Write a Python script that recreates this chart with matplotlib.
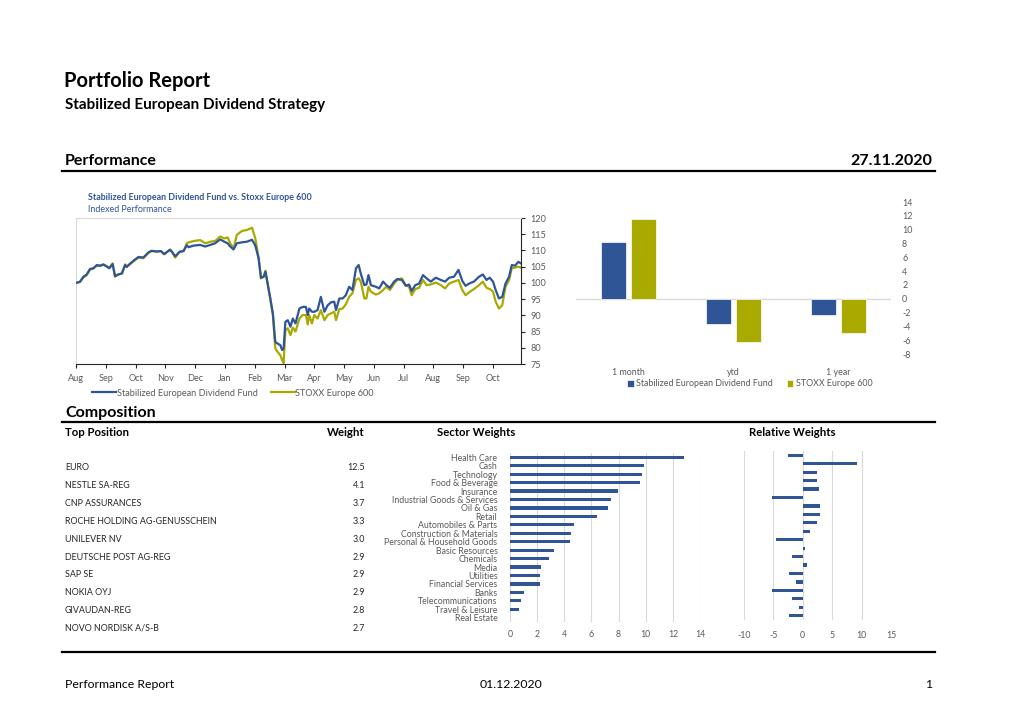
import numpy as np
import matplotlib.pyplot as plt
from matplotlib.lines import Line2D

plt.rcParams['font.family'] = ['Lato', 'DejaVu Sans']
plt.rcParams['axes.unicode_minus'] = False

# ---------------------------------------------------- data ------------------------------------------------------------
month_labels = ['Aug', 'Sep', 'Oct', 'Nov', 'Dec', 'Jan', 'Feb', 'Mar', 'Apr', 'May', 'Jun', 'Jul', 'Aug', 'Sep', 'Oct']

# time in months after 1 Aug 2019
t_month = [0.00, 0.13, 0.25, 0.36, 0.47, 0.58, 0.70, 0.81, 0.92, 1.03, 1.12, 1.23, 1.31, 1.42, 1.54, 1.65, 1.70,
           1.82, 1.98, 2.10, 2.26, 2.43, 2.54, 2.71, 2.85, 2.96, 3.16, 3.23, 3.33, 3.48, 3.61, 3.72, 3.78, 3.95,
           4.17, 4.34, 4.51, 4.67, 4.84, 4.98, 5.09, 5.18, 5.29, 5.40, 5.57, 5.74, 5.91, 6.02, 6.13, 6.21, 6.30,
           6.36, 6.41, 6.52, 6.61, 6.69, 6.77, 6.86, 6.92, 6.97, 7.03, 7.11, 7.20, 7.28, 7.37, 7.50, 7.61, 7.72,
           7.78, 7.83, 7.92, 8.00, 8.11, 8.22, 8.34, 8.45, 8.56, 8.67, 8.73, 8.84, 8.95, 9.06, 9.17, 9.28, 9.40,
           9.49, 9.56, 9.68, 9.75, 9.82, 9.90, 10.07, 10.18, 10.31, 10.42, 10.54, 10.68, 10.79, 10.94, 11.07,
           11.18, 11.27, 11.39, 11.52, 11.65, 11.77, 11.91, 12.08, 12.25, 12.39, 12.53, 12.69, 12.84, 12.97,
           13.08, 13.20, 13.36, 13.53, 13.66, 13.78, 13.89, 14.00, 14.09, 14.20, 14.31, 14.42, 14.54, 14.63,
           14.74, 14.85, 14.94]

fund = [100.0, 100.3, 101.9, 102.6, 104.3, 104.5, 105.5, 105.3, 105.7, 105.0, 104.5, 105.8, 102.1, 102.6, 102.9,
        105.5, 104.9, 106.0, 107.2, 108.0, 107.8, 109.4, 109.9, 109.7, 109.8, 108.9, 110.2, 109.5, 108.2, 109.6,
        109.8, 111.6, 111.0, 111.5, 111.7, 111.2, 111.7, 112.2, 113.4, 112.7, 112.2, 111.2, 110.3, 112.2, 112.5,
        112.7, 113.3, 111.5, 107.6, 101.6, 101.9, 103.4, 101.0, 95.4, 90.5, 81.8, 81.3, 80.8, 79.3, 79.8, 88.0,
        88.5, 86.5, 89.0, 87.5, 92.1, 92.6, 92.6, 90.1, 92.1, 91.1, 91.1, 91.6, 95.7, 91.1, 93.1, 94.0, 94.2,
        91.6, 95.2, 95.2, 96.2, 98.8, 97.8, 104.5, 105.5, 102.9, 99.3, 99.5, 102.4, 99.3, 98.8, 98.3, 100.4,
        99.3, 98.5, 100.4, 101.2, 100.9, 99.1, 99.5, 97.5, 99.3, 99.8, 102.4, 101.4, 100.4, 101.6, 100.9, 100.4,
        101.6, 101.9, 104.0, 100.6, 99.1, 99.8, 100.4, 101.9, 102.6, 100.9, 101.6, 100.4, 97.8, 95.2, 95.7, 99.8,
        101.9, 105.5, 105.3, 106.5, 106.0]

stoxx = [100.0, 100.3, 101.7, 102.4, 104.1, 104.4, 105.3, 105.2, 105.6, 105.2, 104.7, 106.0, 101.9, 102.6, 102.9,
         105.7, 105.0, 105.8, 107.0, 107.8, 107.6, 109.2, 109.8, 109.6, 109.8, 108.8, 110.3, 109.4, 107.8, 109.6,
         109.8, 112.2, 112.5, 112.9, 113.2, 112.2, 112.7, 112.9, 114.3, 113.7, 114.0, 112.2, 110.6, 114.8, 116.0,
         116.3, 117.0, 113.7, 107.8, 101.4, 101.9, 103.8, 100.9, 95.2, 90.1, 79.8, 78.7, 77.7, 76.2, 75.3, 85.4,
         86.0, 83.9, 86.2, 85.0, 89.0, 90.1, 90.1, 87.2, 90.1, 87.5, 90.1, 89.0, 91.6, 88.5, 90.1, 90.6, 91.1,
         88.5, 91.9, 92.1, 93.4, 95.7, 96.8, 100.9, 101.4, 100.4, 95.2, 95.2, 98.8, 97.3, 96.4, 96.8, 97.8,
         98.8, 97.8, 99.8, 100.9, 101.4, 99.3, 98.8, 96.2, 98.1, 98.5, 100.9, 99.3, 99.5, 100.1, 99.3, 98.3,
         99.8, 100.4, 100.9, 97.8, 96.2, 97.1, 98.1, 99.3, 100.4, 98.5, 98.1, 97.3, 94.2, 92.1, 93.1, 98.8,
         100.9, 104.5, 104.7, 105.0, 104.7]

periods = ['1 month', 'ytd', '1 year']
perf_fund = [8.2, -3.7, -2.3]
perf_stoxx = [11.6, -6.3, -5.0]

positions = ['EURO', 'NESTLE SA-REG', 'CNP ASSURANCES', 'ROCHE HOLDING AG-GENUSSCHEIN', 'UNILEVER NV',
             'DEUTSCHE POST AG-REG', 'SAP SE', 'NOKIA OYJ', 'GIVAUDAN-REG', 'NOVO NORDISK A/S-B']
position_weights = ['12.5', '4.1', '3.7', '3.3', '3.0', '2.9', '2.9', '2.9', '2.8', '2.7']

sectors = ['Health Care', 'Cash', 'Technology', 'Food & Beverage', 'Insurance', 'Industrial Goods & Services',
           'Oil & Gas', 'Retail', 'Automobiles & Parts', 'Construction & Materials', 'Personal & Household Goods',
           'Basic Resources', 'Chemicals', 'Media', 'Utilities', 'Financial Services', 'Banks',
           'Telecommunications', 'Travel & Leisure', 'Real Estate']
sector_weights = [12.85, 9.88, 9.7, 9.58, 7.94, 7.44, 7.2, 6.39, 4.72, 4.47, 4.42, 3.24, 2.87, 2.29, 2.21, 2.21,
                  1.06, 0.79, 0.69, 0.0]
relative_weights = [-2.5, 9.3, 2.5, 2.33, 2.7, -5.2, 3.0, 3.0, 2.4, 1.2, -4.6, 0.4, -1.9, 0.7, -2.4, -1.2, -5.3,
                    -1.9, -0.7, -2.3]

# ---------------------------------------------------- layout ----------------------------------------------------------
W, H = 1020, 721
BLUE = '#2F5597'
OLIVE = '#A8AA00'
GREY = '#595959'
GRID = '#D9D9D9'

fig = plt.figure(figsize=(W / 100, H / 100), dpi=100)


def box(x0, y0, x1, y1):
    # pixel box (top-left origin) -> figure fraction rect
    return [x0 / W, 1 - y1 / H, (x1 - x0) / W, (y1 - y0) / H]


def ftext(x, y, s, **kw):
    kw.setdefault('va', 'center')
    fig.text(x / W, 1 - y / H, s, **kw)


def hline(y, x0=62, x1=935, lw=1.6):
    fig.add_artist(Line2D([x0 / W, x1 / W], [1 - y / H, 1 - y / H], color='black', lw=lw))


# header
ftext(64, 81, 'Portfolio Report', fontsize=14.5, fontweight='bold')
ftext(65, 105, 'Stabilized European Dividend Strategy', fontsize=11, fontweight='bold')
ftext(65, 161, 'Performance', fontsize=11.5, fontweight='bold')
ftext(932, 161, '27.11.2020', fontsize=11.5, fontweight='bold', ha='right')
hline(171)

# ---------------------------------------------------- line chart ------------------------------------------------------
ax = fig.add_axes(box(76, 218, 521, 364))
ax.plot(t_month, fund, color=BLUE, lw=1.6, label='Stabilized European Dividend Fund', zorder=3)
ax.plot(t_month, stoxx, color=OLIVE, lw=1.6, label='STOXX Europe 600', zorder=2)
ax.set_xlim(0, 14.94)
ax.set_ylim(75, 120)
ax.set_yticks(np.arange(75, 121, 5))
ax.yaxis.tick_right()
ax.set_xticks(range(len(month_labels)))
ax.set_xticklabels(month_labels)
ax.tick_params(axis='both', labelsize=6.6, labelcolor=GREY, length=3, width=0.8, color='#262626', pad=4)
ax.tick_params(axis='x', pad=4)
for s in ['left', 'top']:
    ax.spines[s].set_color(GRID)
for s in ['right', 'bottom']:
    ax.spines[s].set_color('#262626')
ax.legend(loc='center left', bbox_to_anchor=(84 / W, 1 - 393 / H), bbox_transform=fig.transFigure, ncol=2,
          frameon=False, fontsize=6.6, handlelength=2.6, columnspacing=1.4, handletextpad=0.1,
          labelcolor=GREY)
ftext(88, 197, 'Stabilized European Dividend Fund vs. Stoxx Europe 600', fontsize=6.4, fontweight='bold',
      color=BLUE)
ftext(88, 209, 'Indexed Performance', fontsize=6.4, color=BLUE)

# ---------------------------------------------------- performance bars ------------------------------------------------
bx = fig.add_axes(box(576, 202, 891, 354))
xp = np.arange(len(periods))
bx.bar(xp - 0.14, perf_fund, width=0.24, color=BLUE, edgecolor='white', lw=0.5,
       label='Stabilized European Dividend Fund')
bx.bar(xp + 0.14, perf_stoxx, width=0.24, color=OLIVE, edgecolor='white', lw=0.5, label='STOXX Europe 600')
bx.axhline(0, color=GRID, lw=1, zorder=0)
bx.set_xlim(-0.5, 2.5)
bx.set_ylim(-8, 14)
bx.set_yticks(np.arange(-8, 15, 2))
bx.yaxis.tick_right()
bx.set_xticks(xp)
bx.set_xticklabels(periods)
bx.tick_params(axis='both', labelsize=6.4, labelcolor=GREY, length=0)
bx.tick_params(axis='y', pad=8)
bx.tick_params(axis='x', pad=10)
for s in bx.spines.values():
    s.set_visible(False)
bx.legend(loc='center', bbox_to_anchor=(750 / W, 1 - 384 / H), bbox_transform=fig.transFigure, ncol=2,
          frameon=False, fontsize=6.4, handlelength=0.7, handleheight=0.7, columnspacing=1.6,
          handletextpad=0.3, labelcolor=GREY)

# ---------------------------------------------------- composition -----------------------------------------------------
ftext(65, 413, 'Composition', fontsize=11.5, fontweight='bold')
hline(422)
ftext(65, 433, 'Top Position', fontsize=8.2, fontweight='bold')
ftext(365, 433, 'Weight', fontsize=8.2, fontweight='bold', ha='right')
ftext(437, 433, 'Sector Weights', fontsize=8.2, fontweight='bold')
ftext(749, 433, 'Relative Weights', fontsize=8.2, fontweight='bold')

for i, (name, w) in enumerate(zip(positions, position_weights)):
    y = 468 + i * 17.8
    ftext(65, y, name, fontsize=6.4, color='#262626')
    ftext(365, y, w, fontsize=6.4, color='#262626', ha='right')

yy = np.arange(len(sectors))

sx = fig.add_axes(box(510, 453, 700, 622))
sx.barh(yy, sector_weights, height=0.38, color=BLUE, zorder=3)
sx.set_xlim(0, 14)
sx.set_ylim(len(sectors) - 0.5, -0.5)
sx.set_xticks(np.arange(0, 15, 2))
sx.set_yticks(yy)
sx.set_yticklabels(sectors)
sx.grid(axis='x', color=GRID, lw=0.8, zorder=0)
sx.tick_params(axis='both', labelsize=6.3, labelcolor=GREY, length=0)
sx.tick_params(axis='y', pad=9)
sx.tick_params(axis='x', pad=6)
for s in sx.spines.values():
    s.set_visible(False)

rx = fig.add_axes(box(744, 451, 891, 620))
rx.barh(yy, relative_weights, height=0.38, color=BLUE, zorder=3)
rx.set_xlim(-10, 15)
rx.set_ylim(len(sectors) - 0.5, -0.5)
rx.set_xticks(np.arange(-10, 16, 5))
rx.set_yticks([])
rx.grid(axis='x', color=GRID, lw=0.8, zorder=0)
rx.tick_params(axis='both', labelsize=6.3, labelcolor=GREY, length=0)
rx.tick_params(axis='x', pad=8)
for s in rx.spines.values():
    s.set_visible(False)

# footer
hline(652)
ftext(65, 685, 'Performance Report', fontsize=8.8)
ftext(511, 685, '01.12.2020', fontsize=8.8, ha='center')
ftext(932, 685, '1', fontsize=8.8, ha='right')

fig.savefig('out.png', dpi=100)
